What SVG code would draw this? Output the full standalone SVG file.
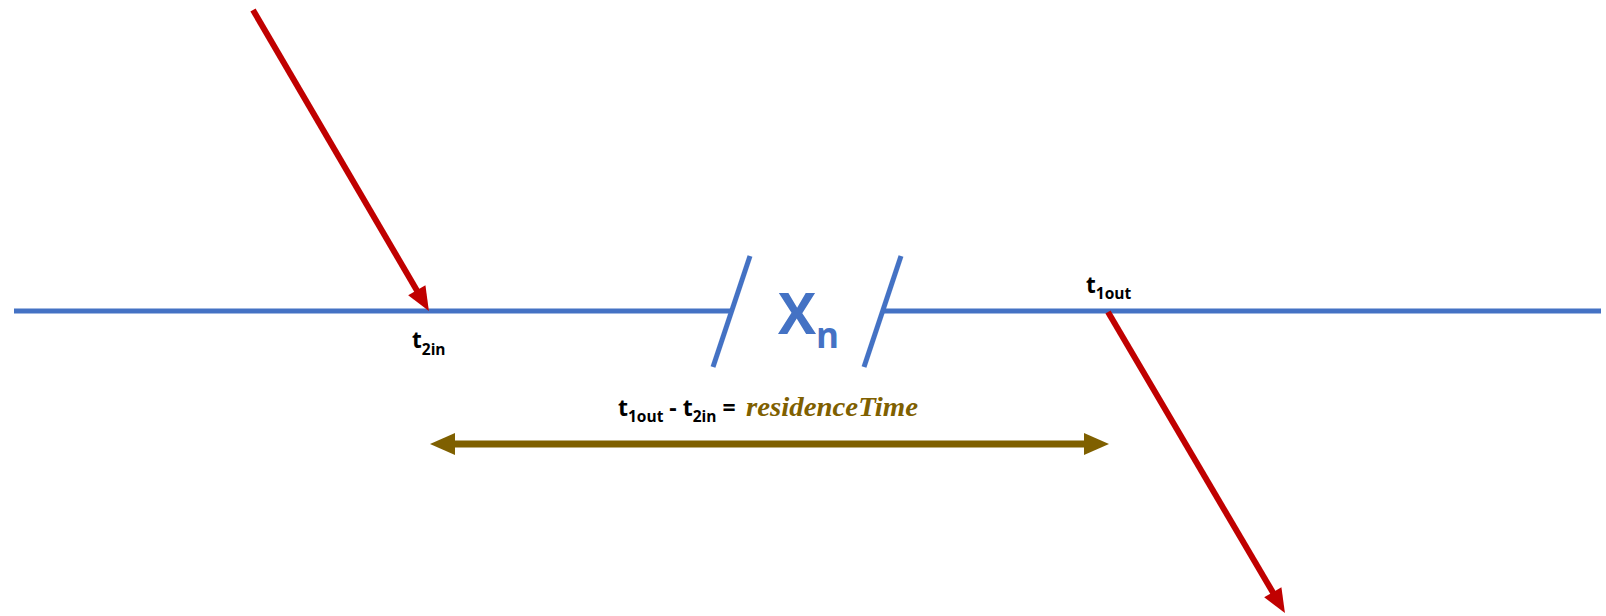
<svg xmlns="http://www.w3.org/2000/svg" width="1606" height="616" viewBox="0 0 1606 616">
<style>
.blue{stroke:#4472C4;stroke-width:5;fill:none}
.red{stroke:#C00000;stroke-width:6;fill:none;marker-end:url(#rh)}
.olive{stroke:#7F6000;stroke-width:7;fill:none;marker-start:url(#oh);marker-end:url(#oh)}
.lbl{font-family:"Open Sans","Liberation Sans",sans-serif;font-weight:bold;fill:#000}
.xn{font-family:"Open Sans","Liberation Sans",sans-serif;font-weight:bold;fill:#4472C4}
.rt{font-family:"Liberation Serif",serif;font-weight:bold;font-style:italic;fill:#7F6000}
</style>
<defs>
<marker id="rh" markerUnits="userSpaceOnUse" markerWidth="30" markerHeight="24" refX="2" refY="0" viewBox="0 -12 30 24" orient="auto" overflow="visible"><path d="M0,-10 L24,0 L0,10 z" fill="#C00000"/></marker>
<marker id="oh" markerUnits="userSpaceOnUse" markerWidth="30" markerHeight="24" refX="2" refY="0" viewBox="0 -12 30 24" orient="auto-start-reverse" overflow="visible"><path d="M0,-11 L25,0 L0,11 z" fill="#7F6000"/></marker>
</defs>
<g id="timeline">
<line class="blue" x1="14" y1="311" x2="732" y2="311"/>
<line class="blue" x1="883" y1="311" x2="1601" y2="311"/>
<line class="blue" x1="750" y1="256" x2="713" y2="367"/>
<line class="blue" x1="901" y1="256" x2="864" y2="367"/>
</g>
<g id="xn-label">
<text class="xn" x="778" y="334" font-size="57">X<tspan font-size="35" dy="14">n</tspan></text>
</g>
<g id="connectors">
<line class="red" x1="253" y1="10" x2="417.8" y2="292"/>
<line class="red" x1="1108" y1="312" x2="1273.8" y2="594"/>
<line class="olive" x1="453" y1="444" x2="1086" y2="444"/>
</g>
<g id="t2in"><text class="lbl" x="412" y="348" font-size="22.5">t<tspan font-size="15.5" dy="7">2in</tspan></text></g>
<g id="t1out"><text class="lbl" x="1086" y="293" font-size="22.5">t<tspan font-size="15.5" dy="6">1out</tspan></text></g>
<g id="formula">
<text class="lbl" x="618" y="416" font-size="23">t<tspan font-size="15.5" dy="6">1out</tspan><tspan font-size="23" dy="-6"> - t</tspan><tspan font-size="15.5" dy="6">2in</tspan><tspan font-size="23" dy="-6"> =</tspan></text>
<text class="rt" x="746" y="416" font-size="27" textLength="172" lengthAdjust="spacingAndGlyphs">residenceTime</text>
</g>
</svg>
